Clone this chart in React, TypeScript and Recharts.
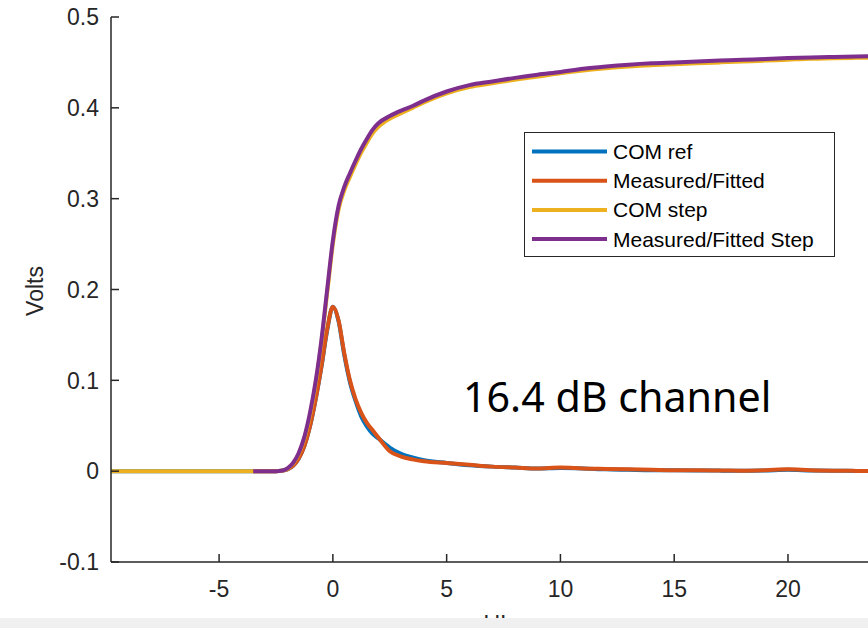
import React from 'react';
import { LineChart, Line, XAxis, YAxis, Legend } from 'recharts';

// time axis (UI) and the four traces
const TIME = [-9.75, -3.5, -3, -2.5, -2.25, -2, -1.75, -1.5, -1.25, -1, -0.75, -0.5, -0.25, 0, 0.25, 0.5, 0.75, 1, 1.25, 1.5, 1.75, 2, 2.5, 3, 3.5, 4, 5, 6, 7, 8, 9, 10, 11, 12, 13, 14, 15, 16, 17, 18, 19, 20, 21, 22, 23, 24];
const COM_REF = [0, 0, 0, 0, 0.0005, 0.002, 0.006, 0.014, 0.028, 0.05, 0.08, 0.115, 0.155, 0.181, 0.165, 0.128, 0.098, 0.077, 0.06, 0.049, 0.041, 0.036, 0.026, 0.019, 0.015, 0.012, 0.009, 0.0065, 0.005, 0.004, 0.003, 0.0035, 0.003, 0.002, 0.0015, 0.001, 0.001, 0.0008, 0.0006, 0.0005, 0.0008, 0.0015, 0.0008, 0.0004, 0.0003, 0.0002];
const MEASURED = [null, 0, 0, 0, 0.0005, 0.002, 0.006, 0.014, 0.028, 0.05, 0.08, 0.116, 0.156, 0.181, 0.166, 0.13, 0.1, 0.079, 0.064, 0.053, 0.045, 0.037, 0.022, 0.016, 0.013, 0.011, 0.009, 0.007, 0.005, 0.004, 0.003, 0.004, 0.003, 0.0025, 0.002, 0.0015, 0.001, 0.001, 0.0008, 0.0005, 0.001, 0.002, 0.001, 0.0005, 0.0003, 0.0002];
const COM_STEP = [0, 0, 0, 0, 0.0004, 0.0025, 0.008, 0.019, 0.036, 0.062, 0.097, 0.142, 0.196, 0.25, 0.288, 0.309, 0.324, 0.338, 0.351, 0.362, 0.372, 0.379, 0.388, 0.394, 0.4, 0.406, 0.416, 0.423, 0.427, 0.431, 0.4345, 0.438, 0.441, 0.4435, 0.4455, 0.447, 0.448, 0.449, 0.45, 0.451, 0.452, 0.453, 0.454, 0.4545, 0.455, 0.4555];
const MEASURED_STEP = [null, 0, 0, 0, 0.0005, 0.003, 0.009, 0.02, 0.038, 0.065, 0.1, 0.145, 0.2, 0.254, 0.292, 0.313, 0.328, 0.342, 0.355, 0.366, 0.376, 0.383, 0.391, 0.397, 0.402, 0.408, 0.418, 0.425, 0.429, 0.433, 0.4365, 0.4395, 0.443, 0.4455, 0.4475, 0.449, 0.45, 0.451, 0.452, 0.453, 0.4537, 0.4548, 0.4555, 0.456, 0.4565, 0.457];

const SERIES_NAMES = ['COM ref', 'Measured/Fitted', 'COM step', 'Measured/Fitted Step'];
const X_TICKS = [-5, 0, 5, 10, 15, 20];
const Y_TICKS = [-0.1, 0, 0.1, 0.2, 0.3, 0.4, 0.5];

const data = TIME.map((t, i) => ({
  t,
  comRef: COM_REF[i],
  measured: MEASURED[i],
  comStep: COM_STEP[i],
  measuredStep: MEASURED_STEP[i],
}));

const AXIS = '#262626';
const FONT = '"Liberation Sans", Arial, Helvetica, sans-serif';

const BottomTick = (props: any) => {
  const { x, y, payload } = props;
  return (
    <g>
      <line x1={x} y1={y} x2={x} y2={y - 8} stroke={AXIS} strokeWidth={1.5} />
      <text x={x} y={y + 35} textAnchor="middle" fontSize={23} fontFamily={FONT} fill={AXIS}>
        {payload.value}
      </text>
    </g>
  );
};

const TopTick = (props: any) => {
  const { x, y } = props;
  return <line x1={x} y1={y} x2={x} y2={y + 8} stroke={AXIS} strokeWidth={1.5} />;
};

const LeftTick = (props: any) => {
  const { x, y, payload } = props;
  const v = payload.value;
  const label = Math.abs(v) < 1e-9 ? '0' : v.toFixed(1);
  return (
    <g>
      <line x1={x} y1={y} x2={x + 8} y2={y} stroke={AXIS} strokeWidth={1.5} />
      <text x={x - 12} y={y + 8.3} textAnchor="end" fontSize={23} fontFamily={FONT} fill={AXIS}>
        {label}
      </text>
    </g>
  );
};

const LegendBox = (props: any) => {
  const items = [...(props.payload || [])].sort(
    (a: any, b: any) => SERIES_NAMES.indexOf(a.value) - SERIES_NAMES.indexOf(b.value)
  );
  return (
    <svg width={311} height={125} style={{ display: 'block' }}>
      <rect x={0.5} y={0.5} width={310} height={124} fill="#fff" stroke={AXIS} strokeWidth={1} />
      {items.map((it: any, i: number) => {
        const cy = 19.5 + i * 29.2;
        return (
          <g key={it.value}>
            <line x1={8} y1={cy} x2={83} y2={cy} stroke={it.color} strokeWidth={4} />
            <text x={89} y={cy + 7.5} fontSize={21} fontFamily={FONT} fill="#000">
              {it.value}
            </text>
          </g>
        );
      })}
    </svg>
  );
};

export default function App() {
  return (
    <div style={{ position: 'absolute', left: 0, top: 0, width: 868, height: 628, overflow: 'hidden', background: '#fff' }}>
      <LineChart width={900} height={660} data={data} margin={{ top: 17, right: 21, left: 0, bottom: 0 }}>
        <XAxis
          dataKey="t"
          type="number"
          domain={[-9.75, 24]}
          ticks={X_TICKS}
          allowDataOverflow
          height={98}
          tickSize={0}
          tickMargin={0}
          tickLine={false}
          axisLine={{ stroke: AXIS, strokeWidth: 1.5 }}
          tick={<BottomTick />}
          label={() => (
            <text x={495} y={631.5} textAnchor="middle" fontSize={23} fontFamily={FONT} fill={AXIS}>
              UI
            </text>
          )}
        />
        <XAxis
          xAxisId="top"
          orientation="top"
          type="number"
          domain={[-9.75, 24]}
          ticks={X_TICKS}
          allowDataOverflow
          height={0}
          tickSize={0}
          tickMargin={0}
          tickLine={false}
          axisLine={{ stroke: AXIS, strokeWidth: 1.5 }}
          tick={<TopTick />}
        />
        <YAxis
          type="number"
          domain={[-0.1, 0.5]}
          ticks={Y_TICKS}
          allowDataOverflow
          width={111}
          tickSize={0}
          tickMargin={0}
          tickLine={false}
          axisLine={{ stroke: AXIS, strokeWidth: 1.5 }}
          tick={<LeftTick />}
          label={() => (
            <text x={42.5} y={291} transform="rotate(-90 42.5 291)" textAnchor="middle" fontSize={23} fontFamily={FONT} fill={AXIS}>
              Volts
            </text>
          )}
        />
        <Legend
          layout="horizontal"
          verticalAlign="middle"
          align="center"
          itemSorter={null as any}
          content={<LegendBox />}
          wrapperStyle={{ left: 524, top: 132, width: 311, height: 125 }}
        />
        <Line type="monotone" dataKey="comRef" name={SERIES_NAMES[0]} stroke="#0072BD" strokeWidth={4} dot={false} activeDot={false} isAnimationActive={false} />
        <Line type="monotone" dataKey="measured" name={SERIES_NAMES[1]} stroke="#D95319" strokeWidth={4} dot={false} activeDot={false} isAnimationActive={false} />
        <Line type="monotone" dataKey="comStep" name={SERIES_NAMES[2]} stroke="#EDB120" strokeWidth={4} dot={false} activeDot={false} isAnimationActive={false} />
        <Line type="monotone" dataKey="measuredStep" name={SERIES_NAMES[3]} stroke="#7E2F8E" strokeWidth={4} dot={false} activeDot={false} isAnimationActive={false} />
      </LineChart>
      <svg width={868} height={628} style={{ position: 'absolute', left: 0, top: 0, pointerEvents: 'none' }}>
        <text x={463} y={412} fontSize={41.2} fontFamily='"Noto Sans", sans-serif' fill="#000">
          16.4 dB channel
        </text>
      </svg>
      <div style={{ position: 'absolute', left: 0, top: 618, width: 868, height: 10, background: '#f0f0f0' }} />
    </div>
  );
}
